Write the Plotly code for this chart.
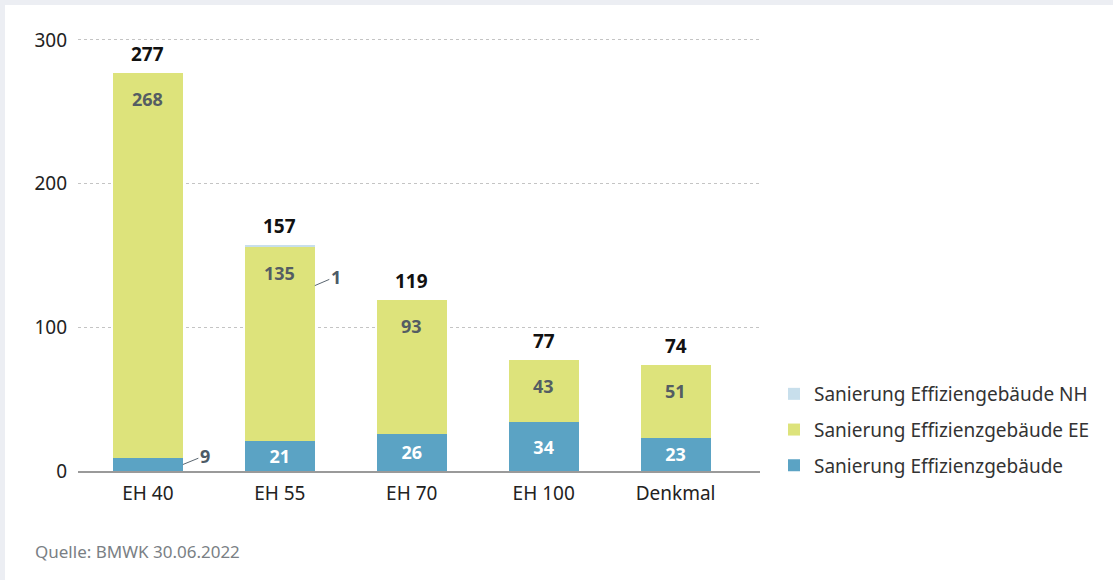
import plotly.graph_objects as go

# Förderzusagen nach Effizienzhausstufe
categories = ["EH 40", "EH 55", "EH 70", "EH 100", "Denkmal"]
eff = [9, 21, 26, 34, 23]           # Sanierung Effizienzgebäude
ee = [268, 135, 93, 43, 51]         # Sanierung Effizienzgebäude EE
nh = [0, 1, 0, 0, 0]                # Sanierung Effiziengebäude NH
totals = [277, 157, 119, 77, 74]
y_ticks = [0, 100, 200, 300]
source = "Quelle: BMWK 30.06.2022"

FONT = "Noto Sans"
FS = 19
W, H = 1113, 580
ML, MR, MT, MB = 78, 353, 37, 109
BAR_W = 0.53

fig = go.Figure()

# labels for tiny segments are placed outside with a leader line
eff_text = [str(v) if v >= 15 else "" for v in eff]

fig.add_trace(
    go.Bar(
        x=categories, y=eff, name="Sanierung Effizienzgebäude",
        marker=dict(color="#5ba3c4", line_width=0), width=BAR_W,
        text=eff_text, textposition="inside", insidetextanchor="middle",
        textfont=dict(color="white", size=18, family=FONT, weight="bold"),
        legendgroup="a", legendrank=3, hoverinfo="skip",
    )
)
fig.add_trace(
    go.Bar(
        x=categories, y=ee, name="Sanierung Effizienzgebäude EE",
        marker=dict(color="#dde37b", line_width=0), width=BAR_W,
        legendgroup="b", legendrank=2, hoverinfo="skip",
    )
)
fig.add_trace(
    go.Bar(
        x=categories, y=nh, name="Sanierung Effiziengebäude NH",
        marker=dict(color="#c8dfec", line_width=0), width=BAR_W,
        legendgroup="c", legendrank=1, hoverinfo="skip",
    )
)

# EE values just below the top of the yellow segment
for i, v in enumerate(ee):
    fig.add_annotation(
        x=categories[i], y=eff[i] + v, text="<b>%d</b>" % v,
        yanchor="top", yshift=-12, showarrow=False,
        font=dict(color="#545d63", size=18, family=FONT),
    )

# totals above the stacks
for i, t in enumerate(totals):
    fig.add_annotation(
        x=categories[i], y=t, text="<b>%d</b>" % t,
        yanchor="bottom", yshift=4, showarrow=False,
        font=dict(color="#111111", size=FS, family=FONT),
    )

# leader-line labels for the small segments
for i, v in enumerate(eff):
    if 0 < v < 15:
        fig.add_annotation(
            x=i + BAR_W / 2, y=v / 2, text="<b>%d</b>" % v,
            showarrow=True, arrowhead=0, arrowwidth=1, arrowcolor="#5a6670",
            ax=22, ay=-9, standoff=0,
            font=dict(color="#4d5a66", size=18, family=FONT),
        )
for i, v in enumerate(nh):
    if v > 0:
        fig.add_annotation(
            x=i + BAR_W / 2, y=eff[i] + ee[i] * 0.8, text="<b>%d</b>" % v,
            showarrow=True, arrowhead=0, arrowwidth=1, arrowcolor="#5a6670",
            ax=21, ay=-9, standoff=0,
            font=dict(color="#4d5a66", size=18, family=FONT),
        )

pw, ph = W - ML - MR, H - MT - MB

fig.add_annotation(
    text=source, xref="paper", yref="paper",
    x=(33 - ML) / pw, y=(H - MB - 551) / ph,
    xanchor="left", yanchor="middle", showarrow=False,
    font=dict(color="#7a7f85", size=17, family=FONT),
)

# light grey page frame on top and left
fig.add_shape(
    type="rect", xref="paper", yref="paper", layer="below", line_width=0,
    fillcolor="#eceef3",
    x0=-ML / pw, x1=(W - ML) / pw, y0=(H - MB - 5) / ph, y1=(H - MB) / ph,
)
fig.add_shape(
    type="rect", xref="paper", yref="paper", layer="below", line_width=0,
    fillcolor="#eceef3",
    x0=-ML / pw, x1=(5 - ML) / pw, y0=-MB / ph, y1=(H - MB) / ph,
)

fig.update_layout(
    width=W, height=H, autosize=False,
    margin=dict(l=ML, r=MR, t=MT, b=MB),
    barmode="stack",
    paper_bgcolor="white", plot_bgcolor="white",
    font=dict(family=FONT, size=FS, color="#222222"),
    showlegend=True,
    legend=dict(
        x=1 + 14 / pw, xanchor="left", y=(471 - 430) / ph, yanchor="middle",
        traceorder="grouped", tracegroupgap=8,
        font=dict(size=FS, color="#333333", family=FONT),
        itemwidth=30,
    ),
    uniformtext=dict(minsize=10, mode="show"),
)
fig.update_xaxes(
    range=[-0.53, 4.64], showgrid=False, showline=True, linecolor="#9a9a9a",
    linewidth=2, ticks="", tickfont=dict(size=FS, color="#222222"),
    ticklabelstandoff=4,
)
fig.update_yaxes(
    range=[0, 302], tickvals=y_ticks, showgrid=True, gridcolor="#c4c4c4",
    griddash="dot", gridwidth=1, zeroline=False, showline=False,
    tickfont=dict(size=FS, color="#222222"), ticklabelstandoff=10,
)

fig.write_html(
    "out.html",
    config={"displayModeBar": False},
    post_script="document.body.style.margin='0';",
)
